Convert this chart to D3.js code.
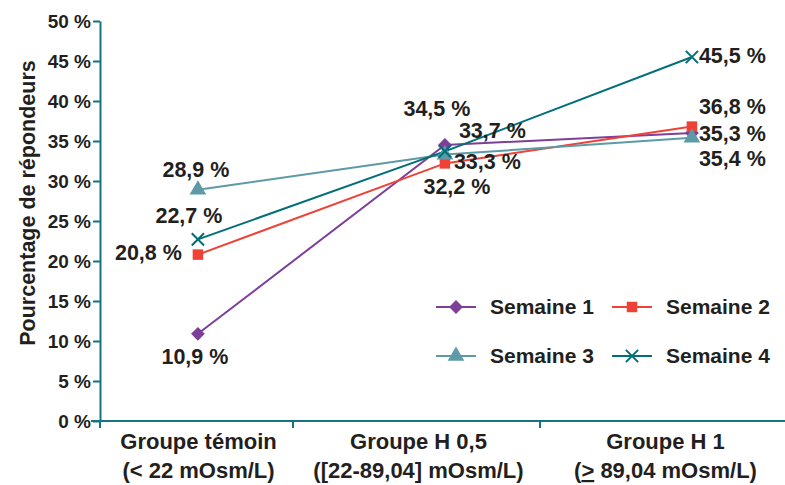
<!DOCTYPE html>
<html>
<head>
<meta charset="utf-8">
<script src="https://cdn.jsdelivr.net/npm/d3@7"></script>
<style>
  body { margin: 0; background: #fff; }
  text { font-family: "Liberation Sans", Arial, sans-serif; font-weight: bold; fill: #231f20; }
</style>
</head>
<body>
<div id="chart"></div>
<script>
(function () {

    // Data
    var groups = ["Groupe témoin", "Groupe H 0,5", "Groupe H 1"];
    var groupLine2 = ["(< 22 mOsm/L)", "([22-89,04] mOsm/L)", "(≥ 89,04 mOsm/L)"];
    var seriesNames = ["Semaine 1", "Semaine 2", "Semaine 3", "Semaine 4"];
    var semaine1 = [10.9, 34.5, 36.0];
    var semaine2 = [20.8, 32.2, 36.8];
    var semaine3 = [28.9, 33.3, 35.4];
    var semaine4 = [22.7, 33.7, 45.5];
    var labels1 = ["10,9 %", "34,5 %", "35,3 %"];
    var labels2 = ["20,8 %", "32,2 %", "36,8 %"];
    var labels3 = ["28,9 %", "33,3 %", "35,4 %"];
    var labels4 = ["22,7 %", "33,7 %", "45,5 %"];
    var yTicks = [0, 5, 10, 15, 20, 25, 30, 35, 40, 45, 50];

    // Colors
    var colors = ["#7d3f98", "#ef4136", "#5b9aa6", "#006f78"];
    var axisColor = "#15747f";
    var symbols = [d3.symbolSquare, d3.symbolSquare, d3.symbolTriangle, d3.symbolX];
    var symRotate = [45, 0, 0, 0];
    var symSizes = [95, 110, 120, 100];

    // Label placement (anchor, dx, dy) per series / group
    var labelPos = [
        [["middle", -3, 23], ["middle", -8, -37], ["start", 7, 0]],
        [["end", -16, -2], ["middle", 12, 23], ["start", 7, -20]],
        [["middle", -2, -20], ["start", 9, 7], ["start", 7, 21]],
        [["middle", -9, -24], ["start", 14, -21], ["start", 7, -2]]
    ];

    var W = 785, H = 485;
    var svg = d3.select("#chart").append("svg")
        .attr("width", W)
        .attr("height", H);

    var yAxisX = 100;
    var y = d3.scaleLinear().domain([0, 50]).range([421, 21]);
    var band = d3.scaleBand().domain(groups).range([46, 787]);
    function xPt(g) { return band(g) + band.bandwidth() * 0.615; }
    // label centred on the visible part of each category slot
    function xLab(g) {
        var a = Math.max(band(g), yAxisX), b = band(g) + band.bandwidth();
        return (a + b) / 2 + 2;
    }

    // y axis
    var yAxis = svg.append("g")
        .attr("transform", "translate(" + yAxisX + ",0)")
        .call(d3.axisLeft(y).tickValues(yTicks).tickSize(7).tickSizeOuter(0)
            .tickFormat(function (d) { return d + " %"; }));
    yAxis.select(".domain").attr("stroke", axisColor).attr("stroke-width", 2);
    yAxis.selectAll(".tick line").attr("stroke", axisColor).attr("stroke-width", 2);
    yAxis.selectAll(".tick text")
        .attr("x", -9)
        .style("font-size", "19px")
        .style("font-family", "'Liberation Sans', Arial, sans-serif")
        .style("font-weight", "bold")
        .attr("fill", "#231f20");

    // x axis line and category ticks
    svg.append("line")
        .attr("x1", 91).attr("x2", W)
        .attr("y1", y(0)).attr("y2", y(0))
        .attr("stroke", axisColor).attr("stroke-width", 2);
    svg.append("line")
        .attr("x1", yAxisX).attr("x2", yAxisX)
        .attr("y1", y(0)).attr("y2", y(0) + 7)
        .attr("stroke", axisColor).attr("stroke-width", 2);
    svg.selectAll(".xtick")
        .data(groups.slice(1))
        .enter().append("line")
        .attr("class", "xtick")
        .attr("x1", function (d) { return band(d); })
        .attr("x2", function (d) { return band(d); })
        .attr("y1", y(0)).attr("y2", y(0) + 7)
        .attr("stroke", axisColor).attr("stroke-width", 2);

    // category labels
    var cat = svg.selectAll(".cat")
        .data(groups)
        .enter().append("text")
        .attr("class", "cat")
        .attr("text-anchor", "middle")
        .style("font-size", "22px");
    cat.append("tspan")
        .attr("x", function (d) { return xLab(d); })
        .attr("y", y(0) + 28)
        .text(function (d) { return d; });
    cat.append("tspan")
        .attr("x", function (d) { return xLab(d); })
        .attr("y", y(0) + 57)
        .html(function (d, i) {
            return i === 2 ? "(<tspan text-decoration=\"underline\">&gt;</tspan> 89,04 mOsm/L)" : "";
        })
        .each(function (d, i) { if (i !== 2) d3.select(this).text(groupLine2[i]); });

    // y axis title
    svg.append("text")
        .attr("transform", "translate(27," + 203 + ") rotate(-90)")
        .attr("text-anchor", "middle")
        .attr("dy", "0.35em")
        .style("font-size", "21.5px")
        .text("Pourcentage de répondeurs");

    // lines
    var allSeries = [semaine1, semaine2, semaine3, semaine4];
    var allLabels = [labels1, labels2, labels3, labels4];
    var line = d3.line()
        .x(function (d, i) { return xPt(groups[i]); })
        .y(function (d) { return y(d); });

    allSeries.forEach(function (vals, s) {
        svg.append("path")
            .datum(vals)
            .attr("fill", "none")
            .attr("stroke", colors[s])
            .attr("stroke-width", 2)
            .attr("d", line);
    });

    allSeries.forEach(function (vals, s) {
        svg.selectAll(".m" + s)
            .data(vals)
            .enter().append("path")
            .attr("class", "m" + s)
            .attr("transform", function (d, i) {
                return "translate(" + xPt(groups[i]) + "," + y(d) + ") rotate(" + symRotate[s] + ")";
            })
            .attr("d", d3.symbol().type(symbols[s]).size(symSizes[s]))
            .attr("fill", s === 3 ? "none" : colors[s])
            .attr("stroke", s === 3 ? colors[s] : "none")
            .attr("stroke-width", 2);
    });

    // value labels
    allSeries.forEach(function (vals, s) {
        svg.selectAll(".l" + s)
            .data(vals)
            .enter().append("text")
            .attr("class", "l" + s)
            .attr("x", function (d, i) { return xPt(groups[i]) + labelPos[s][i][1]; })
            .attr("y", function (d, i) { return y(d) + labelPos[s][i][2]; })
            .attr("dy", "0.35em")
            .attr("text-anchor", function (d, i) { return labelPos[s][i][0]; })
            .style("font-size", "21.5px")
            .text(function (d, i) { return allLabels[s][i]; });
    });

    // legend
    var legend = svg.selectAll(".legend")
        .data(seriesNames)
        .enter().append("g")
        .attr("class", "legend")
        .attr("transform", function (d, i) {
            return "translate(" + (436 + (i % 2) * 176) + "," + (307 + Math.floor(i / 2) * 49) + ")";
        });
    legend.append("line")
        .attr("x1", 0).attr("x2", 40)
        .attr("stroke", function (d, i) { return colors[i]; })
        .attr("stroke-width", 2);
    legend.append("path")
        .attr("transform", function (d, i) { return "translate(20,0) rotate(" + symRotate[i] + ")"; })
        .attr("d", function (d, i) { return d3.symbol().type(symbols[i]).size(symSizes[i])(); })
        .attr("fill", function (d, i) { return i === 3 ? "none" : colors[i]; })
        .attr("stroke", function (d, i) { return i === 3 ? colors[i] : "none"; })
        .attr("stroke-width", 2);
    legend.append("text")
        .attr("x", 54)
        .attr("dy", "0.35em")
        .style("font-size", "21px")
        .text(function (d) { return d; });

})();
</script>
</body>
</html>
